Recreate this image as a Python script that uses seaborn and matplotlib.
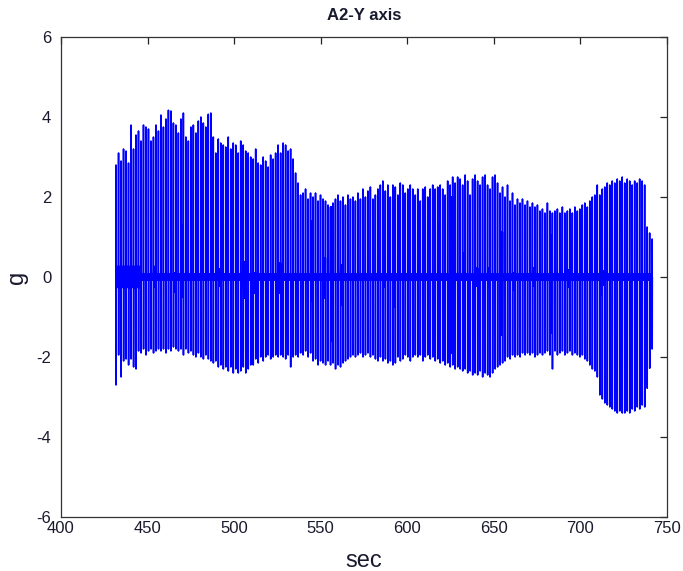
import numpy as np
import pandas as pd
import seaborn as sns
import matplotlib.pyplot as plt

# Accelerometer channel A2, Y axis: one impact spike per stride.
t_first, t_last = 431.8, 741.4

# Positive peak of each stride spike (g), 12 strides per row
peak_rows = [
    [2.8, 3.1, 2.9, 3.2, 3.15, 2.85, 3.8, 3.2, 3.55, 3.65, 3.4, 3.8],
    [3.75, 3.7, 3.4, 3.5, 3.8, 3.65, 4.05, 3.75, 3.95, 4.17, 4.15, 3.85],
    [3.8, 3.6, 3.95, 4.1, 3.5, 3.4, 3.75, 3.8, 3.6, 3.9, 4.0, 3.85],
    [3.75, 4.07, 4.1, 3.5, 3.1, 3.45, 3.35, 3.3, 3.25, 3.5, 3.2, 3.35],
    [3.3, 3.1, 3.4, 3.3, 3.15, 3.1, 3.0, 2.95, 3.2, 2.85, 2.8, 3.0],
    [2.9, 2.75, 3.05, 2.95, 3.1, 3.3, 3.1, 3.35, 3.3, 3.15, 3.2, 2.95],
    [2.6, 2.35, 2.05, 2.1, 2.2, 1.95, 2.1, 2.0, 2.1, 1.9, 2.05, 1.95],
    [1.9, 1.8, 1.75, 1.85, 1.95, 2.05, 1.9, 2.0, 1.8, 2.05, 1.95, 2.0],
    [1.9, 2.1, 1.95, 2.2, 2.0, 2.15, 2.25, 1.95, 2.05, 2.2, 2.3, 2.4],
    [2.15, 2.3, 2.0, 2.3, 2.25, 2.05, 2.35, 2.3, 2.1, 2.2, 2.3, 2.2],
    [2.05, 2.2, 1.9, 2.2, 2.25, 2.0, 2.2, 2.3, 2.2, 2.25, 2.3, 2.2],
    [2.05, 2.4, 2.3, 2.5, 2.35, 2.5, 2.45, 2.3, 2.55, 2.4, 2.05, 2.45],
    [2.55, 2.4, 2.3, 2.5, 2.55, 2.3, 2.2, 2.5, 2.55, 2.35, 2.1, 2.25],
    [2.0, 2.3, 1.9, 2.1, 1.8, 1.95, 1.85, 1.95, 1.8, 1.9, 1.75, 1.85],
    [1.75, 1.8, 1.65, 1.7, 1.6, 1.85, 1.65, 1.6, 1.65, 1.7, 1.6, 1.75],
    [1.6, 1.65, 1.7, 1.6, 1.75, 1.65, 1.7, 1.8, 1.85, 1.75, 1.9, 2.0],
    [2.05, 2.3, 2.05, 2.2, 2.25, 2.35, 2.3, 2.4, 2.35, 2.45, 2.4, 2.5],
    [2.35, 2.45, 2.4, 2.3, 2.4, 2.35, 2.45, 2.4, 2.3, 1.25, 1.1, 0.95],
]

# Negative trough of each stride spike (g)
trough_rows = [
    [-2.7, -1.95, -2.5, -2.1, -2.05, -2.2, -2.05, -2.25, -2.3, -1.85, -1.9, -1.8],
    [-1.95, -1.85, -1.8, -1.9, -1.85, -1.8, -1.85, -1.8, -1.9, -1.8, -1.85, -1.75],
    [-1.8, -1.85, -1.8, -1.95, -1.8, -1.9, -1.85, -1.95, -2.0, -1.9, -2.0, -2.05],
    [-1.95, -2.05, -2.1, -2.15, -2.1, -2.25, -2.2, -2.3, -2.25, -2.35, -2.25, -2.4],
    [-2.3, -2.4, -2.35, -2.25, -2.4, -2.3, -2.2, -2.2, -2.05, -2.15, -2.0, -2.1],
    [-2.0, -1.95, -2.05, -2.0, -1.95, -2.0, -1.95, -2.0, -2.05, -1.95, -2.25, -2.0],
    [-1.95, -2.0, -1.9, -1.95, -1.85, -2.0, -1.9, -2.1, -2.05, -2.2, -2.1, -2.15],
    [-2.2, -2.1, -2.2, -2.15, -2.3, -2.2, -2.25, -2.15, -2.1, -2.05, -2.0, -1.95],
    [-2.0, -1.95, -1.9, -2.0, -1.95, -1.9, -2.0, -1.95, -2.05, -2.1, -2.0, -2.1],
    [-2.05, -2.15, -2.1, -2.2, -2.15, -2.0, -2.1, -2.05, -1.95, -2.0, -2.1, -2.0],
    [-1.95, -2.0, -1.95, -2.1, -2.0, -1.95, -2.05, -2.0, -2.1, -2.05, -2.15, -2.1],
    [-2.2, -2.15, -2.25, -2.2, -2.3, -2.25, -2.3, -2.35, -2.3, -2.4, -2.35, -2.45],
    [-2.4, -2.45, -2.35, -2.5, -2.4, -2.45, -2.5, -2.4, -2.3, -2.25, -2.2, -2.15],
    [-2.1, -2.0, -2.05, -1.95, -2.0, -1.95, -2.0, -1.9, -1.95, -1.9, -1.95, -1.9],
    [-2.0, -1.95, -1.9, -1.95, -1.9, -1.85, -1.95, -2.3, -1.85, -1.95, -1.9, -1.85],
    [-1.95, -1.9, -1.85, -1.95, -1.9, -1.95, -2.0, -1.95, -2.05, -2.1, -2.2, -2.3],
    [-2.35, -2.5, -2.95, -3.05, -3.15, -3.2, -3.25, -3.3, -3.35, -3.4, -3.35, -3.4],
    [-3.4, -3.35, -3.4, -3.3, -3.35, -3.25, -3.3, -3.2, -3.25, -2.78, -2.28, -1.8],
]

# Residual vibration between strides (g)
quiet_band = 0.075
burst_time = [432.5, 434.0, 435.4, 436.9, 438.3, 439.7, 441.2, 442.6, 444.1, 445.5,
              453.7, 465.3, 469.5, 491.6, 505.4, 512.0, 526.0, 545.0, 551.4,
              557.0, 562.0, 586.2, 592.4, 618.4, 625.3, 632.8, 640.0, 647.8,
              654.7, 661.3, 672.5, 682.5, 693.8, 711.2, 713.0]
burst_up = [0.26, 0.26, 0.26, 0.26, 0.26, 0.26, 0.26, 0.26, 0.26, 0.26,
            0.26, 0.1, 1.3, 0.2, 0.38, 0.1, 0.35, 1.4, 0.48,
            1.75, 0.3, 0.22, 0.88, 1.34, 2.0, 0.6, 0.22, 0.22,
            1.13, 0.1, 0.22, 1.05, 0.18, 0.8, 0.15]
burst_down = [-0.26, -0.26, -0.26, -0.26, -0.26, -0.26, -0.26, -0.26, -0.26, -0.26,
              -0.25, -0.37, -0.49, -0.22, -0.53, -0.4, -0.4, -0.6, -0.53,
              -1.6, -0.7, -0.24, -0.74, -1.49, -1.9, -0.7, -0.22, -0.24,
              -1.45, -0.33, -0.22, -1.4, -0.24, -0.45, -0.2]

peaks = np.concatenate([np.array(r) for r in peak_rows])
troughs = np.concatenate([np.array(r) for r in trough_rows])
spike_t = np.linspace(t_first, t_last, len(peaks))
period = spike_t[1] - spike_t[0]

wig_up = np.full(len(peaks), quiet_band)
wig_dn = np.full(len(peaks), -quiet_band)
for bt, bu, bd in zip(burst_time, burst_up, burst_down):
    i = int(np.argmin(np.abs(spike_t + period / 2 - bt)))
    wig_up[i] = max(wig_up[i], bu)
    wig_dn[i] = min(wig_dn[i], bd)

# Waveform of one stride: sharp spike then a ringing tail
wig_pos = np.linspace(0.15, 0.92, 9)
times, values = [], []
for i in range(len(peaks)):
    t0 = spike_t[i]
    times += [t0 - 0.05 * period, t0, t0 + 0.03 * period, t0 + 0.08 * period]
    values += [0.0, peaks[i], troughs[i], 0.0]
    if i < len(peaks) - 1:
        for k, f in enumerate(wig_pos):
            times.append(t0 + f * period)
            values.append(wig_up[i] if k % 2 == 0 else wig_dn[i])

df = pd.DataFrame({"sec": times, "g": values})

sns.set_theme(style="white")
plt.rcParams["font.family"] = ["Liberation Sans", "DejaVu Sans"]
plt.rcParams["axes.unicode_minus"] = False

fig = plt.figure(figsize=(6.83, 5.71), dpi=100)
ax = fig.add_axes([0.0893, 0.0946, 0.8873, 0.8406])
sns.lineplot(data=df, x="sec", y="g", sort=False, estimator=None,
             color="#0000ff", linewidth=1.15, ax=ax)

ax.set_xlim(400, 750)
ax.set_ylim(-6, 6)
ax.set_xticks(np.arange(400, 751, 50))
ax.set_yticks(np.arange(-6, 7, 2))
ax.tick_params(direction="in", top=True, right=True, length=5, width=0.9,
               colors="#222222", labelsize=12, labelcolor="#1a1a2e")
ax.tick_params(axis="x", pad=3)
ax.tick_params(axis="y", pad=7)
for s in ax.spines.values():
    s.set_color("#333333")
    s.set_linewidth(0.9)
    s.set_visible(True)

ax.set_title("A2-Y axis", fontsize=12, fontweight="bold", color="#1a1a2e", pad=12)
ax.set_xlabel("sec", fontsize=17, color="#1a1a2e", labelpad=10)
ax.set_ylabel("g", fontsize=17, color="#1a1a2e", labelpad=6)

fig.savefig("out.png", dpi=100)
